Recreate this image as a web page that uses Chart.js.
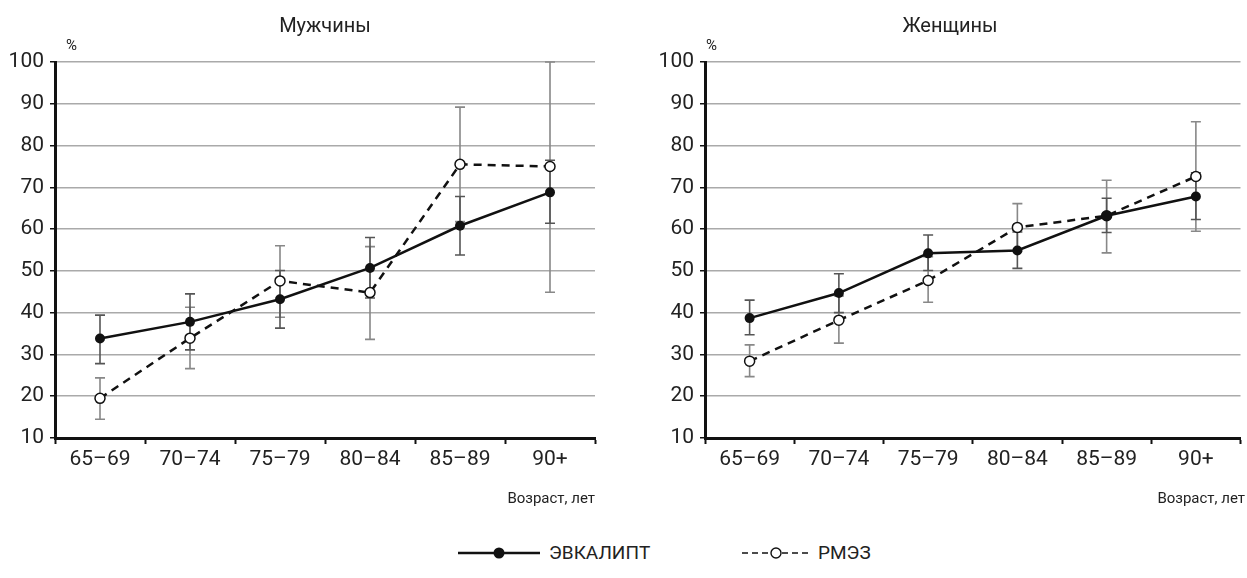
<!DOCTYPE html>
<html>
<head>
<meta charset="utf-8">
<script src="https://cdn.jsdelivr.net/npm/chart.js@4"></script>
<style>
  body { margin: 0; background: #fff; font-family: 'Roboto', sans-serif; color: #222; }
  #wrap { position: relative; width: 1247px; height: 578px; }
  .box { position: absolute; top: 0; height: 500px; }
  .ttl { position: absolute; top: 13px; font-size: 20px; text-align: center; }
  .pct { position: absolute; top: 36px; font-size: 15px; }
  .xt { position: absolute; top: 489px; font-size: 15px; text-align: right; }
  .leg { position: absolute; top: 541px; display: flex; align-items: center; font-size: 19px; }
  .leg svg { margin-right: 9px; }
</style>
</head>
<body>
<div id="wrap">
  <div class="box" style="left:0;width:620px"><canvas id="men"></canvas></div>
  <div class="box" style="left:650px;width:597px"><canvas id="women"></canvas></div>
  <div class="ttl" style="left:225px;width:200px">Мужчины</div>
  <div class="ttl" style="left:850px;width:200px">Женщины</div>
  <div class="pct" style="left:66px">%</div>
  <div class="pct" style="left:706px">%</div>
  <div class="xt" style="left:395px;width:200px">Возраст, лет</div>
  <div class="xt" style="left:1045px;width:200px">Возраст, лет</div>
  <div class="leg" style="left:458px"><svg width="82" height="14"><line x1="0" y1="7" x2="82" y2="7" stroke="#111" stroke-width="2.5"/><circle cx="41" cy="7" r="5.5" fill="#111"/></svg>ЭВКАЛИПТ</div>
  <div class="leg" style="left:742px"><svg width="67" height="14"><line x1="0" y1="7" x2="67" y2="7" stroke="#111" stroke-width="1.4" stroke-dasharray="6,4"/><circle cx="34" cy="7" r="5" fill="#fff" stroke="#111" stroke-width="1.4"/></svg>РМЭЗ</div>
</div>
<script>
const ageGroups = ['65–69', '70–74', '75–79', '80–84', '85–89', '90+'];
const yTicks = [10, 20, 30, 40, 50, 60, 70, 80, 90, 100];

// Мужчины
const menEvk = [33.8, 37.8, 43.2, 50.7, 60.8, 68.8];
const menEvkLow = [27.8, 31.1, 36.3, 43.5, 53.8, 61.4];
const menEvkHigh = [39.4, 44.5, 50.1, 58.0, 67.8, 76.5];
const menRmez = [19.5, 33.9, 47.6, 44.8, 75.5, 75.0];
const menRmezLow = [14.5, 26.6, 38.9, 33.6, 61.8, 44.9];
const menRmezHigh = [24.4, 41.3, 56.0, 55.8, 89.2, 100];

// Женщины
const womenEvk = [38.7, 44.7, 54.2, 54.9, 63.2, 67.8];
const womenEvkLow = [34.7, 40.0, 50.1, 50.6, 59.2, 62.3];
const womenEvkHigh = [43.0, 49.3, 58.6, 59.3, 67.4, 73.5];
const womenRmez = [28.4, 38.2, 47.7, 60.4, 63.2, 72.6];
const womenRmezLow = [24.7, 32.7, 42.5, 54.7, 54.3, 59.5];
const womenRmezHigh = [32.3, 44.0, 53.4, 66.1, 71.7, 85.7];

const FONT = "'Roboto', sans-serif";

const errorBars = {
  id: 'errorBars',
  beforeDatasetsDraw(chart, args, opts) {
    const ctx = chart.ctx;
    const x = chart.scales.x, y = chart.scales.y;
    opts.bars.forEach(b => {
      ctx.save();
      ctx.strokeStyle = b.color;
      ctx.lineWidth = 1.6;
      b.low.forEach((lo, i) => {
        const px = x.getPixelForValue(i);
        const y1 = y.getPixelForValue(lo), y2 = y.getPixelForValue(b.high[i]);
        ctx.beginPath();
        ctx.moveTo(px, y1); ctx.lineTo(px, y2);
        ctx.moveTo(px - 5, y1); ctx.lineTo(px + 5, y1);
        ctx.moveTo(px - 5, y2); ctx.lineTo(px + 5, y2);
        ctx.stroke();
      });
      ctx.restore();
    });
  }
};

function makeChart(id, evk, rmez, bars, padRight) {
  return new Chart(document.getElementById(id), {
    type: 'line',
    data: {
      labels: ageGroups,
      datasets: [{
        label: 'ЭВКАЛИПТ',
        data: evk,
        borderColor: '#111',
        backgroundColor: '#111',
        borderWidth: 2.5,
        pointRadius: 5,
        pointBackgroundColor: '#111',
        pointBorderWidth: 0
      }, {
        label: 'РМЭЗ',
        data: rmez,
        borderColor: '#111',
        borderWidth: 2.5,
        borderDash: [8, 6],
        pointRadius: 5,
        pointBackgroundColor: '#fff',
        pointBorderColor: '#111',
        pointBorderWidth: 1.5
      }]
    },
    options: {
      responsive: false,
      animation: false,
      layout: { padding: { top: 62, right: padRight, left: 0, bottom: 0 } },
      plugins: {
        legend: { display: false },
        tooltip: { enabled: false },
        errorBars: { bars: bars }
      },
      scales: {
        x: {
          offset: true,
          afterFit(s) { s.height = 62; },
          grid: { drawOnChartArea: false, offset: true, tickLength: 6, tickColor: '#111', tickWidth: 2 },
          border: { color: '#111', width: 3 },
          ticks: { color: '#222', font: { family: FONT, size: 21 }, padding: 3 }
        },
        y: {
          min: 10, max: 100,
          afterFit(s) { s.width = 55; },
          afterBuildTicks(s) { s.ticks = yTicks.map(v => ({ value: v })); },
          grid: { color: '#aaa', lineWidth: 1.5, tickLength: 5, tickColor: '#111', tickWidth: 1.5 },
          border: { color: '#111', width: 3 },
          ticks: { color: '#222', font: { family: FONT, size: 21 }, padding: 6 }
        }
      }
    },
    plugins: [errorBars]
  });
}

function sizeCanvas(id, w) {
  const c = document.getElementById(id);
  c.width = w; c.height = 500;
  c.style.width = w + 'px'; c.style.height = '500px';
}
sizeCanvas('men', 620);
sizeCanvas('women', 597);

makeChart('men', menEvk, menRmez, [
  { low: menRmezLow, high: menRmezHigh, color: '#888' },
  { low: menEvkLow, high: menEvkHigh, color: '#555' }
], 25);
makeChart('women', womenEvk, womenRmez, [
  { low: womenRmezLow, high: womenRmezHigh, color: '#888' },
  { low: womenEvkLow, high: womenEvkHigh, color: '#555' }
], 2);
</script>
</body>
</html>
